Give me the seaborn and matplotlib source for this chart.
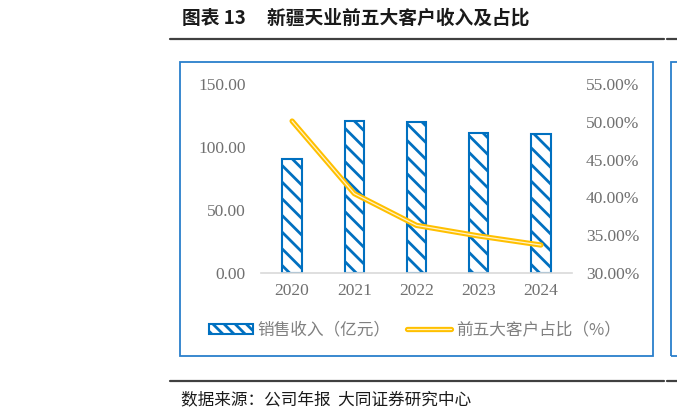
import numpy as np
import pandas as pd
import matplotlib
matplotlib.use('Agg')
import matplotlib.pyplot as plt
import seaborn as sns
from matplotlib.patches import Rectangle, Patch
from matplotlib.lines import Line2D
import matplotlib.patheffects as pe

# ---- data ----
years = ['2020', '2021', '2022', '2023', '2024']
sales = [90.5, 121.0, 120.0, 111.0, 110.0]          # 销售收入（亿元）
top5_share = [50.1, 40.5, 36.3, 34.9, 33.7]        # 前五大客户占比（%）
left_ticks = [0, 50, 100, 150]
right_ticks = [30, 35, 40, 45, 50, 55]
title = '图表 13     新疆天业前五大客户收入及占比'
source = '数据来源：公司年报  大同证券研究中心'
legend_labels = ['销售收入（亿元）', '前五大客户占比（%）']

BLUE = '#0070C0'
GOLD = '#FFC000'
GOLD_LIGHT = '#FFF2CC'
FRAME = '#2A7FCB'
TICK_GRAY = '#707070'

sns.set_theme(style='white')
plt.rcParams['font.family'] = ['Noto Sans CJK SC', 'DejaVu Sans']
plt.rcParams['hatch.linewidth'] = 2.0
plt.rcParams['hatch.color'] = BLUE

W, H = 677, 420
fig = plt.figure(figsize=(W / 100, H / 100), dpi=100)
ax = fig.add_axes([261 / W, 147 / H, 311 / W, 189 / H])

df = pd.DataFrame({'year': years, 'sales': sales, 'share': top5_share})
sns.barplot(data=df, x='year', y='sales', ax=ax, color='white',
            edgecolor=BLUE, linewidth=1.5, width=0.31, saturation=1)
for p in ax.patches:
    p.set_hatch('\\\\')
    p.set_edgecolor(BLUE)

ax.set_xlim(-0.5, len(years) - 0.5)
ax.set_ylim(left_ticks[0], left_ticks[-1])
ax.set_yticks(left_ticks)
ax.set_yticklabels([f'{v:.2f}' for v in left_ticks])
ax.set_xlabel('')
ax.set_ylabel('')

ax2 = ax.twinx()
sns.lineplot(x=np.arange(len(years)), y=top5_share, ax=ax2, color=GOLD_LIGHT,
             linewidth=0.9,
             path_effects=[pe.Stroke(linewidth=3.8, foreground=GOLD), pe.Normal()])
ax2.set_ylim(right_ticks[0], right_ticks[-1])
ax2.set_yticks(right_ticks)
ax2.set_yticklabels([f'{v:.2f}%' for v in right_ticks])
ax2.set_ylabel('')
ax2.set_xlim(-0.5, len(years) - 0.5)

for a in (ax, ax2):
    for s in a.spines.values():
        s.set_visible(False)
    a.grid(False)
    a.tick_params(length=0)
ax.spines['bottom'].set_visible(True)
ax.spines['bottom'].set_color('#D9D9D9')
ax.spines['bottom'].set_linewidth(1.2)

ax.tick_params(axis='y', pad=11, colors=TICK_GRAY)
ax.tick_params(axis='x', pad=7, colors=TICK_GRAY)
ax2.tick_params(axis='y', pad=10, colors=TICK_GRAY)
for lab in ax.get_yticklabels() + ax.get_xticklabels() + ax2.get_yticklabels():
    lab.set_fontfamily('Liberation Serif')
    lab.set_fontsize(12.5)
    lab.set_color(TICK_GRAY)

# legend
h_bar = Patch(facecolor='white', edgecolor=BLUE, hatch='\\\\\\', linewidth=1.5)
h_line = Line2D([], [], color=GOLD_LIGHT, lw=0.9,
                path_effects=[pe.Stroke(linewidth=3.8, foreground=GOLD), pe.Normal()])
fig.legend([h_bar, h_line], legend_labels, loc='center',
           bbox_to_anchor=(415 / W, 1 - 330 / H), ncol=2, frameon=False,
           handlelength=2.6, handleheight=0.55, handletextpad=0.3,
           columnspacing=1.0,
           prop={'family': ['Noto Sans CJK SC', 'DejaVu Sans'], 'size': 12},
           labelcolor='#808080')

# frame around the chart
fig.add_artist(Rectangle((179.5 / W, 1 - 356 / H), 473 / W, 294.5 / H,
                         transform=fig.transFigure, fill=False,
                         edgecolor=FRAME, lw=1.3))
# neighbouring (cut-off) chart frame
fig.add_artist(Rectangle((670.5 / W, 1 - 356 / H), 60 / W, 294 / H,
                         transform=fig.transFigure, fill=False,
                         edgecolor=FRAME, lw=1.3))

# header / footer rules
for y in (38.5, 381):
    fig.add_artist(Line2D([170 / W, 664 / W], [1 - y / H] * 2, color='#404040', lw=1.6,
                          transform=fig.transFigure))
    fig.add_artist(Line2D([666.5 / W, 1], [1 - y / H] * 2, color='#404040', lw=1.6,
                          transform=fig.transFigure))

fig.text(182 / W, 1 - 18 / H, title, fontsize=13.5, fontweight='bold',
         va='center', ha='left', color='#1a1a1a')
fig.text(181 / W, 1 - 400 / H, source, fontsize=12,
         va='center', ha='left', color='#1a1a1a')

fig.savefig('out.png', dpi=100)
